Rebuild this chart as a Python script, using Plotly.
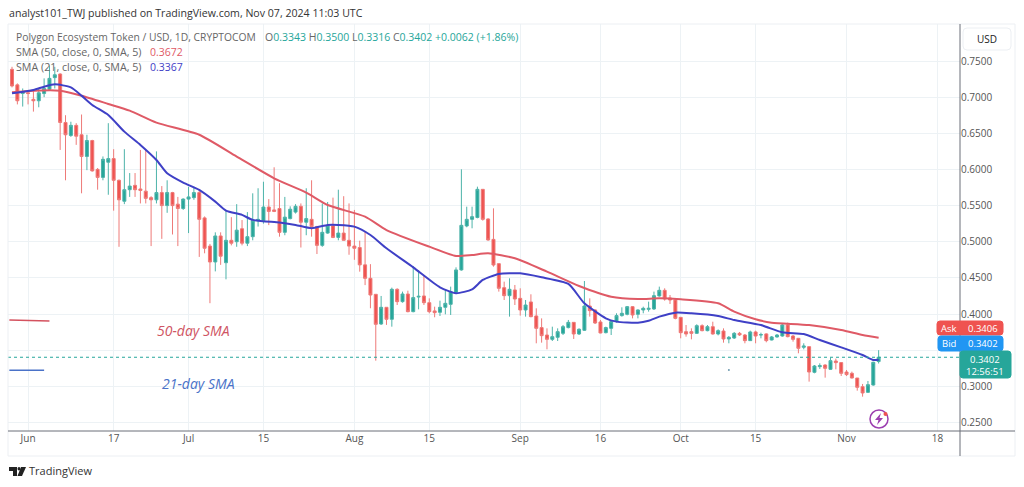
import pandas as pd
import plotly.graph_objects as go

# daily candles from 2024-05-29 to 2024-11-07
opens = [.7385, .717, .705, .706, .697, .695, .705, .711, .727, .732,
         .665, .647, .661, .648, .618, .64, .6, .589, .61, .615,
         .585, .556, .572, .578, .573, .57, .561, .558, .568, .55,
         .568, .552, .546, .559, .561, .568, .533, .494, .472, .508,
         .471, .502, .5, .518, .498, .507, .529, .529, .548, .544,
         .546, .513, .532, .541, .549, .527, .531, .521, .495, .512,
         .522, .506, .512, .502, .494, .492, .468, .4494, .4273, .3862,
         .4093, .3927, .4342, .4171, .4277, .4033, .4235, .425, .4157, .4043,
         .4024, .4093, .4134, .43, .461, .5218, .531, .5335, .5725, .5315,
         .5033, .4697, .4365, .4254, .4333, .4217, .4056, .4167, .3973, .3812,
         .371, .365, .3678, .3733, .3812, .3885, .3724, .3775, .4111, .4056,
         .389, .3742, .3802, .3895, .3978, .3996, .4102, .3996, .4056, .4065,
         .407, .425, .4328, .4222, .4194, .3954, .3756, .3756, .3733, .3839,
         .377, .3825, .3724, .3765, .3655, .3668, .3733, .371, .3632, .3752,
         .371, .3725, .3641, .3683, .3696, .3849, .3696, .3664, .354, .3549,
         .3194, .3272, .3295, .3235, .335, .3328, .3198, .318, .3115, .2995,
         .2917, .3018, .3343]
highs = [.742, .719, .712, .71, .71, .712, .726, .744, .742, .733,
         .675, .666, .664, .676, .648, .641, .602, .618, .664, .628,
         .586, .628, .595, .595, .627, .627, .563, .625, .577, .585,
         .569, .562, .56, .576, .576, .572, .535, .497, .513, .513,
         .543, .534, .552, .53, .541, .567, .574, .583, .559, .603,
         .581, .562, .549, .552, .553, .574, .585, .522, .553, .555,
         .561, .572, .563, .553, .544, .5015, .514, .469, .4273, .425,
         .4093, .4365, .4356, .431, .4323, .4665, .4609, .454, .4217, .4102,
         .4185, .4333, .4379, .4646, .6002, .5485, .5485, .5762, .5725, .5324,
         .5462, .4697, .4448, .4494, .4402, .4356, .4194, .4273, .4079, .394,
         .3802, .3825, .3802, .3848, .3918, .3885, .3802, .4457, .4217, .4065,
         .3918, .3825, .3918, .401, .4093, .4111, .4111, .4065, .4102, .4171,
         .431, .4379, .4356, .4263, .4217, .396, .3848, .3802, .3858, .3858,
         .3848, .3894, .3788, .3802, .3696, .3751, .3752, .3724, .377, .377,
         .3742, .3733, .3696, .3724, .3872, .3881, .371, .3669, .3595, .3549,
         .3295, .3318, .3305, .3397, .3383, .3335, .3226, .3203, .3115, .3033,
         .3074, .334, .35]
lows = [.7135, .69, .687, .69, .68, .686, .7, .709, .712, .627,
        .585, .645, .634, .567, .599, .597, .572, .585, .565, .543,
        .493, .552, .562, .562, .553, .553, .494, .553, .504, .54,
        .51, .494, .544, .512, .558, .479, .484, .415, .459, .468,
        .448, .495, .493, .495, .494, .502, .521, .525, .523, .541,
        .507, .509, .531, .539, .492, .509, .507, .483, .493, .511,
        .505, .502, .502, .482, .475, .4586, .44, .408, .3355, .385,
        .385, .3825, .4125, .4157, .4024, .4024, .4065, .4125, .401, .3955,
        .3973, .3996, .3987, .4286, .46, .52, .5186, .5324, .5292, .5015,
        .4655, .431, .4194, .3964, .4125, .3978, .3964, .3955, .3595, .3604,
        .3512, .3627, .3627, .371, .3802, .3655, .371, .3766, .3964, .3862,
        .3733, .3733, .371, .3881, .3964, .3982, .394, .394, .401, .4033,
        .4056, .424, .4185, .4139, .3927, .3664, .3687, .365, .3724, .3761,
        .3761, .3715, .3705, .3604, .3595, .3655, .3696, .3595, .3627, .3595,
        .3664, .3609, .3636, .3673, .3687, .3678, .3618, .3457, .3512, .3065,
        .318, .324, .312, .3226, .3235, .3143, .3143, .311, .294, .2857,
        .2908, .3009, .3316]
closes = [.7155, .695, .707, .705, .695, .706, .712, .726, .731, .665,
          .648, .661, .646, .618, .64, .598, .589, .614, .615, .585,
          .558, .572, .577, .572, .571, .56, .558, .568, .55, .568,
          .55, .546, .559, .562, .568, .531, .491, .472, .508, .48,
          .502, .498, .516, .498, .507, .529, .531, .548, .542, .542,
          .513, .534, .545, .549, .527, .532, .521, .495, .513, .522,
          .506, .512, .502, .494, .491, .468, .4494, .4263, .3858, .4093,
          .3927, .4342, .4171, .4277, .4033, .4227, .4245, .4157, .4033, .4019,
          .4093, .4148, .431, .461, .5227, .531, .5347, .5725, .531, .5024,
          .4678, .4356, .4254, .4342, .4208, .4056, .4125, .3964, .3802, .3701,
          .365, .3687, .3756, .3825, .3885, .3724, .3789, .4111, .4047, .3876,
          .3738, .3812, .3895, .3978, .401, .4102, .3987, .4056, .4079, .4079,
          .4254, .4328, .4208, .4194, .394, .3742, .3724, .3733, .3839, .377,
          .3825, .3724, .377, .3655, .3678, .3733, .3711, .3632, .3752, .3696,
          .3715, .3632, .3683, .371, .3849, .3687, .365, .3526, .3558, .3198,
          .3281, .3286, .3249, .3355, .3328, .318, .3162, .3115, .2986, .2908,
          .3023, .3332, .3402]

# moving averages, read at selected candles (1 = first candle)
sma50_days = [1, 5, 10, 14, 19, 23, 28, 36, 43, 50, 56, 60, 67, 71, 79, 84, 87, 90, 95, 101,
              107, 113, 118, 122, 126, 133, 136, 140, 143, 150, 156, 160, 163]
sma50_values = [.7067, .709, .709, .702, .6906, .6813, .6647, .648, .6178, .5878, .568, .5508,
                .5347, .5162, .4932, .4803, .4817, .484, .4771, .4586, .4388, .424, .4208,
                .4217, .4203, .4148, .4033, .3927, .3881, .3848, .3779, .371, .3672]
sma21_days = [1, 5, 7, 9, 12, 14, 16, 19, 22, 25, 28, 30, 33, 36, 39, 41, 44, 46, 51, 54, 57,
              60, 62, 65, 68, 71, 76, 81, 84, 87, 89, 92, 96, 100, 105, 108, 112, 114, 118,
              120, 122, 125, 128, 133, 136, 141, 145, 149, 152, 156, 160, 162, 163]
sma21_values = [.7053, .7099, .7145, .7177, .7136, .7021, .6892, .6753, .6523, .6339, .6131,
                .5947, .5818, .5717, .5555, .5431, .5371, .5302, .5265, .5233, .5187, .5232,
                .5232, .5209, .5093, .4909, .4646, .437, .4287, .4342, .4471, .4554, .4563,
                .4508, .4416, .4148, .3941, .3895, .3881, .3908, .3964, .4019, .401, .3973,
                .3917, .3848, .3747, .3724, .3641, .3539, .3433, .3364, .3367]

# the two short key lines drawn by the analyst
key50_dates = ["2024-05-28 12:00", "2024-06-05"]
key50_values = [.3918, .3904]
key21_dates = ["2024-05-28 12:00", "2024-06-04"]
key21_values = [.3222, .3222]

tick_dates = ["2024-06-01", "2024-06-17", "2024-07-01", "2024-07-15", "2024-08-01", "2024-08-15",
              "2024-09-01", "2024-09-16", "2024-10-01", "2024-10-15", "2024-11-01", "2024-11-18"]
tick_labels = ["Jun", "17", "Jul", "15", "Aug", "15", "Sep", "16", "Oct", "15", "Nov", "18"]
price_ticks = [.25, .3, .35, .4, .45, .5, .55, .6, .65, .7, .75]
# 0.3500 sits under the Bid and last price tags, so its label stays blank
price_labels = ["0.2500", "0.3000", "", "0.4000", "0.4500", "0.5000", "0.5500", "0.6000",
                "0.6500", "0.7000", "0.7500"]

GREEN = "#26a69a"
RED = "#ef5350"
RED_LINE = "#df5a66"
BLUE_LINE = "#3f40c6"
FONT = "Open Sans"
PLOT_L, PLOT_R, PLOT_T, PLOT_B = 8, 960, 24, 431

dates = pd.date_range("2024-05-29", periods=len(opens), freq="D")


def px(x):
    return (x - PLOT_L) / (PLOT_R - PLOT_L)


def py(y):
    return (PLOT_B - y) / (PLOT_B - PLOT_T)


def label(x, y, text, size=10, color="#666666", anchor="left", italic=False):
    if italic:
        text = "<i>" + text + "</i>"
    fig.add_annotation(x=px(x), y=py(y), xref="paper", yref="paper", text=text, showarrow=False,
                       xanchor=anchor, yanchor="middle", align="center" if anchor == "center" else "left",
                       borderpad=0, borderwidth=0,
                       font=dict(family=FONT, size=size, color=color))


def round_box(x0, y0, x1, y1, fill, line=None, r=3):
    path = (f"M{px(x0 + r)},{py(y0)} L{px(x1 - r)},{py(y0)} Q{px(x1)},{py(y0)} {px(x1)},{py(y0 + r)} "
            f"L{px(x1)},{py(y1 - r)} Q{px(x1)},{py(y1)} {px(x1 - r)},{py(y1)} "
            f"L{px(x0 + r)},{py(y1)} Q{px(x0)},{py(y1)} {px(x0)},{py(y1 - r)} "
            f"L{px(x0)},{py(y0 + r)} Q{px(x0)},{py(y0)} {px(x0 + r)},{py(y0)} Z")
    fig.add_shape(type="path", path=path, xref="paper", yref="paper", fillcolor=fill,
                  line=dict(color=line or fill, width=1))


def poly(points, fill):
    path = "M" + " L".join(f"{px(a)},{py(b)}" for a, b in points) + " Z"
    fig.add_shape(type="path", path=path, xref="paper", yref="paper", fillcolor=fill,
                  line=dict(width=0))


def rule(x0, y0, x1, y1, color, width=1):
    fig.add_shape(type="line", xref="paper", yref="paper", x0=px(x0), y0=py(y0), x1=px(x1), y1=py(y1),
                  line=dict(color=color, width=width))


fig = go.Figure()

fig.add_trace(go.Candlestick(
    x=dates, open=opens, high=highs, low=lows, close=closes, whiskerwidth=0,
    increasing=dict(line=dict(color="#4db3a9", width=1), fillcolor=GREEN),
    decreasing=dict(line=dict(color="#ee7a78", width=1), fillcolor=RED),
))
fig.add_trace(go.Scatter(x=dates[[d - 1 for d in sma50_days]], y=sma50_values, mode="lines",
                         line=dict(color=RED_LINE, width=2, shape="spline", smoothing=0.6)))
fig.add_trace(go.Scatter(x=dates[[d - 1 for d in sma21_days]], y=sma21_values, mode="lines",
                         line=dict(color=BLUE_LINE, width=2, shape="spline", smoothing=0.6)))
fig.add_trace(go.Scatter(x=key50_dates, y=key50_values, mode="lines", line=dict(color="#d4525f", width=1.5)))
fig.add_trace(go.Scatter(x=key21_dates, y=key21_values, mode="lines", line=dict(color="#4a72c8", width=1.5)))
# stray dot left on the chart
fig.add_trace(go.Scatter(x=["2024-10-10"], y=[.3226], mode="markers",
                         marker=dict(color="#6f9bb0", size=2)))

fig.update_layout(
    width=1024, height=487, autosize=False, showlegend=False,
    margin=dict(l=PLOT_L, r=1024 - PLOT_R, t=PLOT_T, b=487 - PLOT_B),
    paper_bgcolor="white", plot_bgcolor="white", boxgap=0.2,
    hovermode=False,
)
fig.update_xaxes(
    rangeslider_visible=False, range=["2024-05-28 06:00", "2024-11-22 05:00"],
    tickmode="array", tickvals=tick_dates, ticktext=tick_labels, showgrid=True, gridcolor="#edf2f5",
    gridwidth=1, ticks="", zeroline=False, showline=False,
    tickfont=dict(family=FONT, size=10, color="#555555"),
)
fig.update_yaxes(
    range=[.2382, .8012], side="right", tickmode="array", tickvals=price_ticks, ticktext=price_labels,
    showgrid=True, gridcolor="#edf2f5", gridwidth=1, ticks="", zeroline=False, showline=False,
    tickfont=dict(family=FONT, size=10, color="#555555"),
)

# last price line
fig.add_hline(y=closes[-1], line=dict(color=GREEN, width=1, dash="dot"))

# panel frame and axis rules
fig.add_shape(type="rect", xref="paper", yref="paper", x0=px(8), y0=py(24), x1=px(1015), y1=py(456),
              line=dict(color="#eceff3", width=1))
rule(8, PLOT_B, 1015, PLOT_B, "#6b6f78")
rule(PLOT_R, PLOT_T, PLOT_R, 456, "#6b6f78")

# header and legend rows
label(9, 13, "analyst101_TWJ published on TradingView.com, Nov 07, 2024 11:03 UTC", size=10.6, color="#333333")
label(16, 37, "Polygon Ecosystem Token / USD, 1D, CRYPTOCOM", size=10.3)
label(265, 37, f'O<span style="color:{GREEN}">{opens[-1]:.4f}</span> '
      f'H<span style="color:{GREEN}">{highs[-1]:.4f}</span> '
      f'L<span style="color:{GREEN}">{lows[-1]:.4f}</span> '
      f'C<span style="color:{GREEN}">{closes[-1]:.4f}</span> '
      f'<span style="color:{GREEN}">+0.0062 (+1.86%)</span>', size=10.5)
label(16, 52, "SMA (50, close, 0, SMA, 5)", size=10.7)
label(150, 52, f"{sma50_values[-1]:.4f}", size=10.5, color=RED_LINE)
label(16, 67, "SMA (21, close, 0, SMA, 5)", size=10.7)
label(150, 67, f"{sma21_values[-1]:.4f}", size=10.5, color=BLUE_LINE)

# analyst notes
label(193, 330, "50-day SMA", size=14, color="#cf5563", anchor="center", italic=True)
label(198, 383, "21-day SMA", size=14, color="#4a72c8", anchor="center", italic=True)

# right hand labels
round_box(963, 28, 1011, 50, "white", "#eceff3", r=4)
label(987, 39, "USD", size=10, color="#222222", anchor="center")
round_box(937, 321, 1003, 335, RED)
label(949, 328, "Ask", size=9.5, color="white", anchor="center")
label(983, 328, "0.3406", size=9.5, color="white", anchor="center")
round_box(938, 336, 1003, 351, "#2196f3")
label(949, 343, "Bid", size=9.5, color="white", anchor="center")
label(983, 343, "0.3402", size=9.5, color="white", anchor="center")
round_box(960, 351, 1011, 378, GREEN)
label(985, 365, f"{closes[-1]:.4f}<br>12:56:51", size=9.5, color="white", anchor="center")

# lightning badge
fig.add_shape(type="circle", xref="paper", yref="paper", x0=px(870), y0=py(410), x1=px(888), y1=py(428),
              line=dict(color="#9c3fb0", width=1.5), fillcolor="white")
poly([(881, 413), (875, 420), (878.5, 420), (877, 425), (883, 418), (879.5, 418)], "#9c3fb0")
fig.add_shape(type="circle", xref="paper", yref="paper", x0=px(883.5), y0=py(412), x1=px(887.5), y1=py(416),
              line=dict(width=0), fillcolor=RED)

# TradingView mark
poly([(9, 467), (17, 467), (17, 476), (13, 476), (13, 471), (9, 471)], "#222222")
fig.add_shape(type="circle", xref="paper", yref="paper", x0=px(17.5), y0=py(467), x1=px(20.5), y1=py(470.5),
              line=dict(width=0), fillcolor="#222222")
poly([(21, 467), (26, 467), (22, 476), (17.5, 476)], "#222222")
label(29, 471, "TradingView", size=11, color="#333333")

fig.write_html("out.html", config={"displayModeBar": False},
               post_script="document.body.style.margin='0';document.body.style.overflow='hidden';")
